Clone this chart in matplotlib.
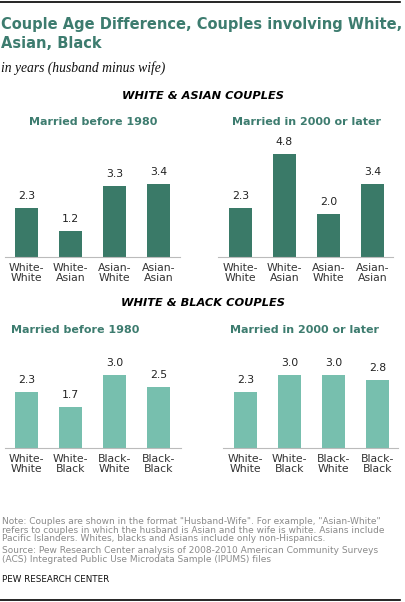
import matplotlib.pyplot as plt
from matplotlib.lines import Line2D

# data
wa_labels = ["White-\nWhite", "White-\nAsian", "Asian-\nWhite", "Asian-\nAsian"]
wa_before = [2.3, 1.2, 3.3, 3.4]
wa_after = [2.3, 4.8, 2.0, 3.4]

wb_labels = ["White-\nWhite", "White-\nBlack", "Black-\nWhite", "Black-\nBlack"]
wb_before = [2.3, 1.7, 3.0, 2.5]
wb_after = [2.3, 3.0, 3.0, 2.8]

dark = "#3a7a68"
light = "#77bfae"
teal_text = "#3d7c6f"

W, H = 405, 602
fig = plt.figure(figsize=(W / 100, H / 100), dpi=100)


def px_axes(left, right, base, height):
    # pixel coords from top-left of the image
    return fig.add_axes([left / W, (H - base) / H, (right - left) / W, height / H])


def bar_panel(ax, labels, vals, color, ymax, xlim):
    x = range(len(vals))
    ax.bar(x, vals, width=0.52, color=color)
    for i, v in zip(x, vals):
        ax.annotate(f"{v:.1f}", (i, v), xytext=(0, 5), textcoords="offset points",
                    ha="center", va="bottom", fontsize=7.8, color="#222222")
    ax.set_ylim(0, ymax)
    ax.set_xlim(*xlim)
    ax.set_yticks([])
    ax.set_xticks(list(x))
    ax.set_xticklabels(labels, fontsize=7.8, color="#333333", linespacing=1.05)
    ax.tick_params(axis="x", length=0, pad=4)
    for s in ["top", "right", "left"]:
        ax.spines[s].set_visible(False)
    ax.spines["bottom"].set_color("#bbbbbb")
    ax.spines["bottom"].set_linewidth(0.8)
    ax.patch.set_alpha(0)


ax1 = px_axes(5, 180, 257, 5 * 21.5)
bar_panel(ax1, wa_labels, wa_before, dark, 5, (-0.49, 3.49))
ax2 = px_axes(218, 393, 257, 5 * 21.5)
bar_panel(ax2, wa_labels, wa_after, dark, 5, (-0.51, 3.47))
ax3 = px_axes(5, 181, 448, 4 * 24.3)
bar_panel(ax3, wb_labels, wb_before, light, 4, (-0.49, 3.51))
ax4 = px_axes(223, 398, 448, 4 * 24.3)
bar_panel(ax4, wb_labels, wb_after, light, 4, (-0.51, 3.47))


def t(x, y, s, **kw):
    fig.text(x / W, 1 - y / H, s, **kw)


# rules at top and bottom
fig.add_artist(Line2D([0, 400 / W], [1 - 1.5 / H] * 2, color="black", lw=1.2))
fig.add_artist(Line2D([0, 400 / W], [1 - 599.5 / H] * 2, color="black", lw=1.2))

title_font = dict(fontsize=10.5, fontweight="bold", family="DejaVu Sans",
                  color=teal_text, va="center")
t(1, 25, "Couple Age Difference, Couples involving White,", **title_font)
t(1, 43, "Asian, Black", **title_font)
t(1, 68, "in years (husband minus wife)", fontsize=9.8, style="italic",
  family="Liberation Serif", color="#111111", va="center")

t(203, 96, "WHITE & ASIAN COUPLES", fontsize=8.2, fontweight="bold", style="italic",
  color="black", ha="center", va="center")
t(93, 122, "Married before 1980", fontsize=8, fontweight="bold", color=teal_text,
  ha="center", va="center")
t(306, 122, "Married in 2000 or later", fontsize=8, fontweight="bold", color=teal_text,
  ha="center", va="center")

t(203, 303, "WHITE & BLACK COUPLES", fontsize=8.2, fontweight="bold", style="italic",
  color="black", ha="center", va="center")
t(75, 330, "Married before 1980", fontsize=8, fontweight="bold", color=teal_text,
  ha="center", va="center")
t(304, 330, "Married in 2000 or later", fontsize=8, fontweight="bold", color=teal_text,
  ha="center", va="center")

note = ('Note: Couples are shown in the format "Husband-Wife". For example, "Asian-White"\n'
        'refers to couples in which the husband is Asian and the wife is white. Asians include\n'
        'Pacific Islanders. Whites, blacks and Asians include only non-Hispanics.')
t(2, 517, note, fontsize=6.5, color="#8a8a8a", va="top", linespacing=0.95)
source = ('Source: Pew Research Center analysis of 2008-2010 American Community Surveys\n'
          '(ACS) Integrated Public Use Microdata Sample (IPUMS) files')
t(2, 546, source, fontsize=6.5, color="#8a8a8a", va="top", linespacing=1.0)
t(2, 580, "PEW RESEARCH CENTER", fontsize=6.3, color="#111111", va="center")

fig.savefig("out.png", dpi=100)
